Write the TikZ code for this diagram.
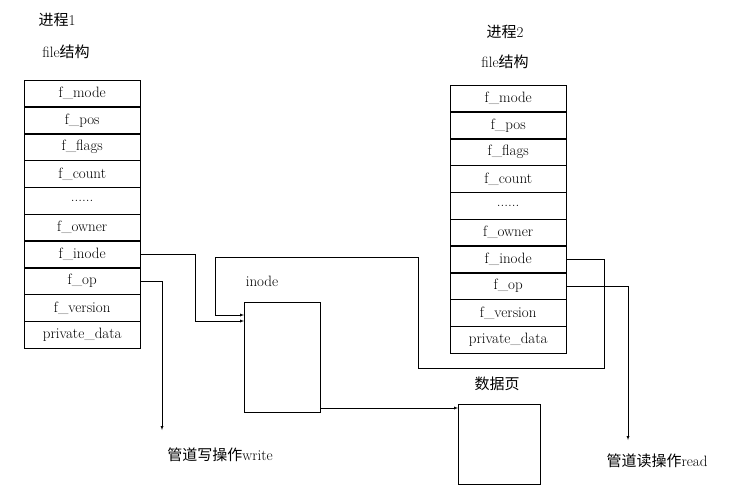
\documentclass[tikz,border=0pt]{standalone}
\usepackage{fontspec}
\newfontfamily\cjk{Noto Sans CJK SC}
\usetikzlibrary{positioning}
\newcommand\dotrow{......}
\begin{document}
\begin{tikzpicture}[x=1pt,y=-1pt,
  field/.style={draw,minimum width=116pt,minimum height=26.4pt,inner sep=0pt,font=\fontsize{15}{15}\selectfont},
  title/.style={font=\fontsize{15}{16}\selectfont},
  link/.style={-latex}]
  \useasboundingbox (0,0) rectangle (738,486);
  % process 1 file structure
  \node[title] (p1) at (57,20) {{\cjk 进程}1};
  \node[title] (f1) at (66,52) {file{\cjk 结构}};
  \node[field,anchor=north west] (l1) at (24,80) {f\_mode};
  \foreach \t [count=\i from 2, evaluate=\i as \j using int(\i-1)] in {f\_pos,f\_flags,f\_count,\dotrow,f\_owner,f\_inode,f\_op,f\_version,private\_data}
    \node[field,below=0pt of l\j] (l\i) {\t};
  % process 2 file structure
  \node[title] (p2) at (505,32) {{\cjk 进程}2};
  \node[title] (f2) at (505,62) {file{\cjk 结构}};
  \node[field,anchor=north west] (r1) at (450,85) {f\_mode};
  \foreach \t [count=\i from 2, evaluate=\i as \j using int(\i-1)] in {f\_pos,f\_flags,f\_count,\dotrow,f\_owner,f\_inode,f\_op,f\_version,private\_data}
    \node[field,below=0pt of r\j] (r\i) {\t};
  % inode and data page
  \node[title] (il) at (262,281) {inode};
  \node[draw,minimum width=76pt,minimum height=110pt,anchor=north west] (ino) at (244,302) {};
  \node[title] (dl) at (497,384) {\cjk 数据页};
  \node[draw,minimum width=82pt,minimum height=80pt,anchor=north west] (page) at (458,404) {};
  \coordinate (w) at (162,430);
  \coordinate (rd) at (628,440);
  \node[title,anchor=north] (wl) at (220,444) {{\cjk 管道写操作}write};
  \node[title,anchor=north] (rl) at (657,450) {{\cjk 管道读操作}read};
  % connectors
  \draw[link] (l7.east) -| (195,321) -- (ino.north west |- 0,321);
  \draw[link] (r7.east) -| (604,368) -| (418,257) -| (215,315) -- (ino.north west |- 0,315);
  \draw[link] (l8.east) -| (w);
  \draw[link] (r8.east) -| (rd);
  \draw[link] (ino.south east |- 0,408) -- (page.west |- 0,408);
\end{tikzpicture}
\end{document}
